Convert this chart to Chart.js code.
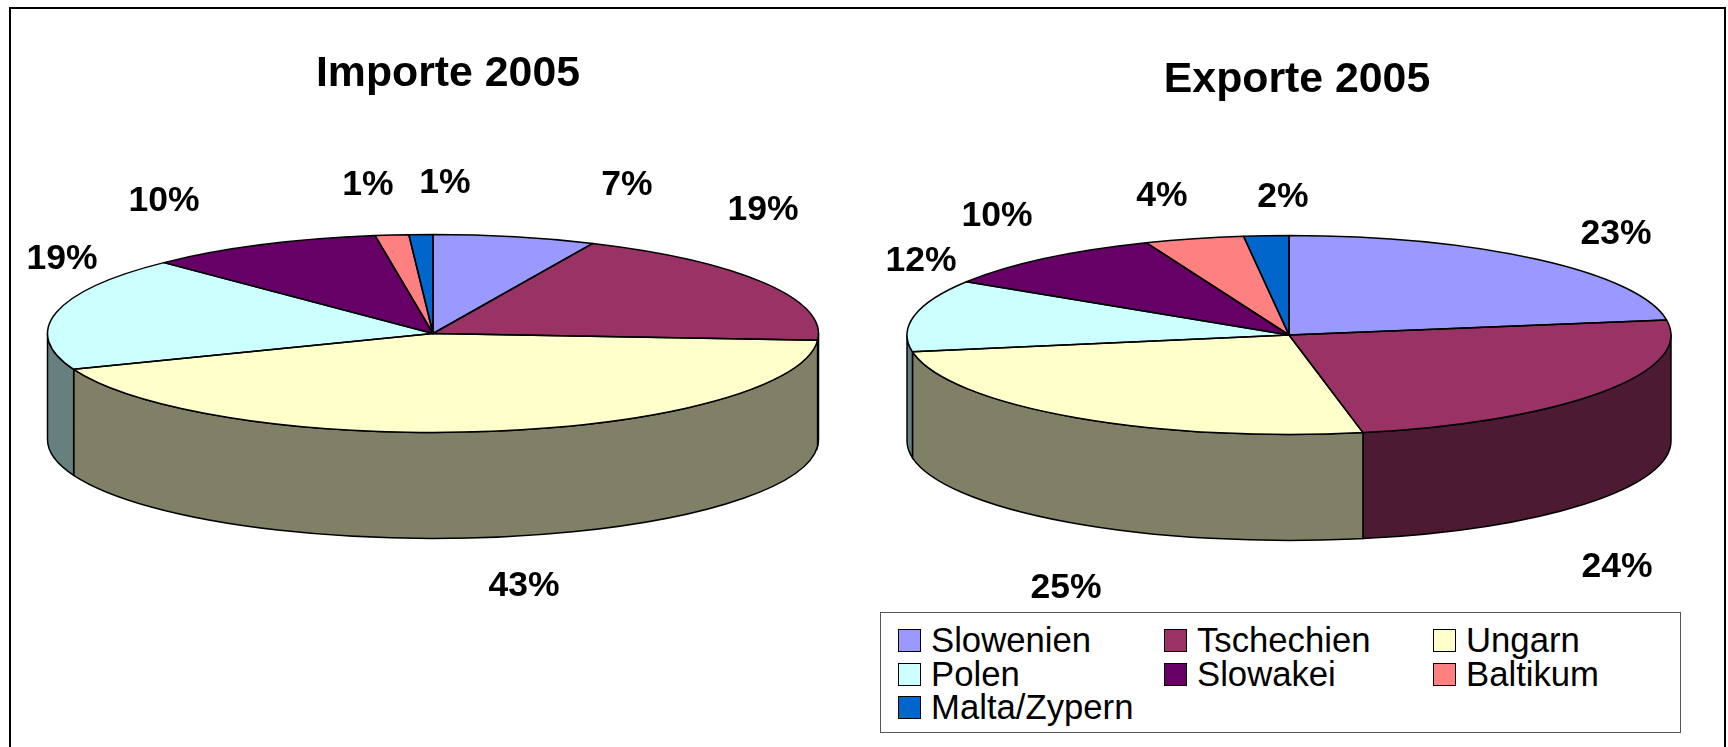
<!DOCTYPE html>
<html lang="de">
<head>
<meta charset="utf-8">
<title>Importe und Exporte 2005</title>
<script src="https://cdn.jsdelivr.net/npm/chart.js@4/dist/chart.umd.js"></script>
<style>
    html, body { margin: 0; background: #fff; overflow: hidden; width: 1728px; height: 747px; }
    canvas { position: absolute; top: 0; }
    #frame { position: absolute; left: 9px; top: 7px; width: 1713px; height: 800px; border: 2px solid #000; }
    #chartImporte { left: 0; }
    #chartExporte { left: 864px; }
    #legend {
        position: absolute; left: 880px; top: 612px; width: 799px; height: 119px;
        border: 1.5px solid #555; background: #fff;
        font: 34.7px "Liberation Sans", Arial, sans-serif; color: #000;
    }
    .item { position: absolute; display: flex; align-items: center; height: 24px; white-space: nowrap; }
    .swatch { width: 21px; height: 21px; border: 1.5px solid #000; margin-right: 10px; flex: none; }
</style>
</head>
<body>
<div id="frame"></div>
<canvas id="chartImporte" width="864" height="747"></canvas>
<canvas id="chartExporte" width="864" height="747"></canvas>
<div id="legend"></div>

<script>
const categories = ['Slowenien', 'Tschechien', 'Ungarn', 'Polen', 'Slowakei', 'Baltikum', 'Malta/Zypern'];
const importe = [6.8, 19.3, 43.0, 18.6, 9.9, 1.4, 1.0];
const exporte = [22.6, 24.3, 25.4, 11.7, 9.9, 4.2, 1.9];

const topColors = ['#9999FF', '#993366', '#FFFFCC', '#CCFFFF', '#660066', '#FF8080', '#0066CC'];
const sideColors = ['#4D4D80', '#4D1A33', '#808066', '#668080', '#330033', '#804040', '#003366'];

// label centres, canvas pixels, same order as categories
const importeLabelX = [627, 763, 524, 62, 164, 368, 445];
const importeLabelY = [185, 210, 586, 259, 201, 185, 183];
const exporteLabelX = [752, 753, 202, 57, 133, 298, 419];
const exporteLabelY = [234, 567, 588, 261, 216, 196, 197];

// tilts the flat pie into a cylinder: arcs are squashed, the wall is drawn underneath
const tiltPlugin = {
    id: 'tilt',
    beforeDatasetsDraw(chart, args, opts) {
        const ctx = chart.ctx;
        const arcs = chart.getDatasetMeta(0).data;

        ctx.save();
        ctx.lineWidth = 1.5;
        ctx.strokeStyle = '#000';
        arcs.forEach((arc, i) => {
            const from = Math.max(arc.startAngle, 0);
            const to = Math.min(arc.endAngle, Math.PI);
            if (from >= to) return;
            const ry = opts.radiusY;
            ctx.beginPath();
            ctx.ellipse(arc.x, arc.y, arc.outerRadius, ry, 0, from, to);
            ctx.ellipse(arc.x, arc.y + opts.depth, arc.outerRadius, ry, 0, to, from, true);
            ctx.closePath();
            ctx.fillStyle = sideColors[i];
            ctx.fill();
            ctx.stroke();
        });
        ctx.restore();

        const first = arcs[0];
        ctx.save();
        ctx.translate(0, first.y);
        ctx.scale(1, opts.radiusY / first.outerRadius);
        ctx.translate(0, -first.y);
    },
    afterDatasetsDraw(chart, args, opts) {
        const ctx = chart.ctx;
        ctx.restore();

        ctx.save();
        ctx.lineWidth = 1.5;
        ctx.strokeStyle = '#000';
        ctx.lineJoin = 'round';
        chart.getDatasetMeta(0).data.forEach(arc => {
            ctx.beginPath();
            ctx.moveTo(arc.x, arc.y);
            ctx.ellipse(arc.x, arc.y, arc.outerRadius, opts.radiusY, 0, arc.startAngle, arc.endAngle);
            ctx.closePath();
            ctx.stroke();
        });

        ctx.fillStyle = '#000';
        ctx.textAlign = 'center';
        ctx.font = 'bold 35.5px "Liberation Sans", Arial, sans-serif';
        ctx.textBaseline = 'middle';
        chart.data.datasets[0].data.forEach((value, i) => {
            ctx.fillText(Math.round(value) + '%', opts.labelX[i], opts.labelY[i]);
        });

        // title is not centred over its pie in the original, so the built-in one won't do
        ctx.font = 'bold 42.8px "Liberation Sans", Arial, sans-serif';
        ctx.textBaseline = 'alphabetic';
        ctx.fillText(opts.title, opts.titleX, opts.titleY);
        ctx.restore();
    }
};

function makePie(id, tilt, values, radius, padding) {
    return new Chart(document.getElementById(id), {
        type: 'pie',
        data: {
            labels: categories,
            datasets: [{
                data: values,
                backgroundColor: topColors,
                borderWidth: 0,
                radius: radius,
                clip: false
            }]
        },
        options: {
            responsive: false,
            animation: false,
            layout: { padding: padding },
            plugins: {
                legend: { display: false },
                tooltip: { enabled: false },
                tilt: tilt
            }
        },
        plugins: [tiltPlugin]
    });
}

makePie('chartImporte', {
    title: 'Importe 2005', titleX: 448, titleY: 86,
    radiusY: 99, depth: 106, labelX: importeLabelX, labelY: importeLabelY
}, importe, 385.5, { left: 2, right: 0, top: 0, bottom: 80 });

makePie('chartExporte', {
    title: 'Exporte 2005', titleX: 433, titleY: 92,
    radiusY: 99.5, depth: 106, labelX: exporteLabelX, labelY: exporteLabelY
}, exporte, 382, { left: 0, right: 14, top: 0, bottom: 77 });

// legend sits in its own box with three fixed columns
const legend = document.getElementById('legend');
const columnX = [17, 283, 552];
const rowY = [15, 49, 82];
categories.forEach((name, i) => {
    const item = document.createElement('div');
    item.className = 'item';
    item.style.left = columnX[i % 3] + 'px';
    item.style.top = rowY[Math.floor(i / 3)] + 'px';
    const swatch = document.createElement('span');
    swatch.className = 'swatch';
    swatch.style.background = topColors[i];
    item.appendChild(swatch);
    item.appendChild(document.createTextNode(name));
    legend.appendChild(item);
});
</script>
</body>
</html>
